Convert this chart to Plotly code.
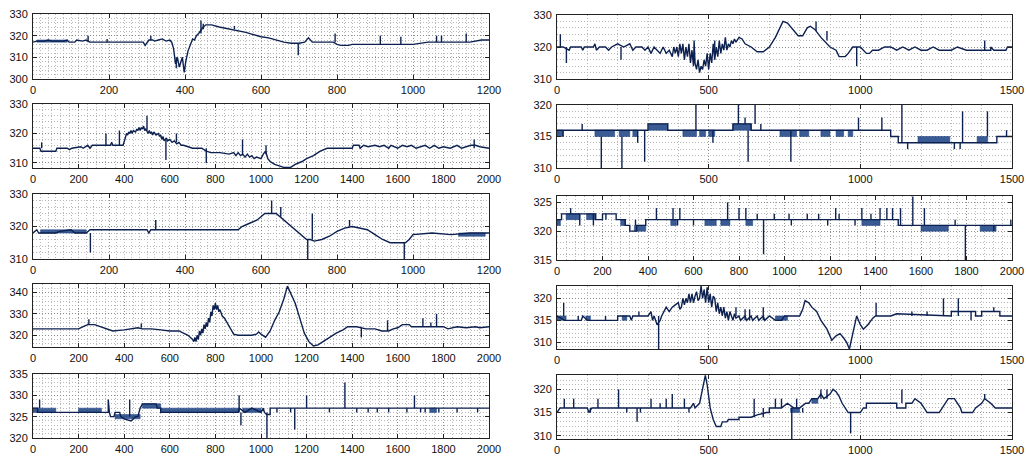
import plotly.graph_objects as go

# ---------------- data ----------------
# line: [x, y] breakpoints ; spikes: [x, from_y, to_y] ; bands: [x0, x1, low, high] dense-noise blocks

L1_line = [[0,317],[10,317.5],[30,317.5],[40,318],[50,317.5],[80,317.5],[90,318],[95,317],[110,317],[115,318],
           [130,317.5],[140,318],[150,317],[290,317],[295,315.5],[300,317],[305,318],[315,318],[320,317.5],
           [330,318],[340,318.5],[350,317.5],[360,318],[365,317],[370,314],[375,307],[380,310],[385,305.5],
           [390,309],[393,310],[398,303],[402,308],[408,313],[415,316],[420,318.5],[425,318],[430,320],
           [436,321],[440,322],[448,324],[455,325],[470,325],[490,324],[520,323],[540,322.5],[560,321.5],
           [580,320.5],[600,319.5],[620,319],[640,318],[660,317],[680,316.5],[700,316.5],[715,317],[725,319],
           [735,317],[790,317],[800,316],[810,315.5],[830,315.5],[840,316],[1000,316],[1040,317],[1150,317],
           [1170,317.5],[1180,318],[1200,318]]
L1_spikes = [[145,317,320],[195,317,318.5],[310,318,320],[442,321,327],[448,323,325.5],[530,323,324.5],
             [698,316.5,311],[795,317,321],[914,316,320],[968,316,319.5],[1062,317,320],[1075,317,320],
             [1140,317,321],[377,310,305]]
L1_bands = [[10,90,317,318]]

L2_line = [[0,315],[30,315],[35,314],[100,314],[105,315],[150,315],[160,314.5],[170,315],[210,315.5],
           [220,315],[240,316],[250,315],[260,316],[340,316],[345,317],[350,316],[395,316],[400,317],
           [405,318.5],[410,320],[415,319.5],[420,320.5],[425,320],[430,321],[435,320],[440,321],
           [450,320.5],[455,321.5],[460,321],[465,322],[470,321],[475,322],[480,321.5],[485,322.5],
           [490,321],[495,321.5],[505,320],[510,321],[515,320],[520,320.5],[525,319.5],[530,320.5],
           [540,319.5],[550,320],[555,319],[560,319.5],[565,318],[570,319],[575,317.5],[585,318.5],
           [590,317.5],[600,318],[610,317],[620,317.5],[630,316.5],[640,317],[650,316],[660,316],
           [700,315],[740,315],[760,314],[780,313.5],[820,313.5],[860,313],[880,313.5],[890,312.5],
           [900,313.5],[910,312.5],[920,313],[930,312],[940,313],[950,312],[960,312.5],[970,311.5],
           [980,312],[1000,311.5],[1005,312.5],[1010,313],[1020,314],[1030,311.5],[1040,310.5],[1060,309.5],
           [1080,309],[1100,308.5],[1130,308.5],[1150,309.5],[1180,310.5],[1200,311.5],[1230,312.5],
           [1260,314],[1290,315],[1400,315],[1405,316],[1430,316],[1435,315],[1450,316],[1470,315.5],
           [1500,316],[1520,315.5],[1540,316],[1560,315],[1570,316],[1600,315],[1620,316],[1640,315.5],
           [1660,316],[1680,315],[1700,315.5],[1720,316],[1740,315],[1760,316],[1780,315],[1800,315.5],
           [1830,315],[1860,316],[1880,315],[1900,315.5],[1920,316],[1940,316],[1960,315.5],[2000,315]]
L2_spikes = [[38,315,317],[320,316,320],[379,316,321],[500,321,326],[583,318,311],[629,317,320],
             [760,315,310],[919,313,318],[1022,313,316],[1935,315,318]]
L2_bands = []

L3_line = [[0,318],[10,319],[15,318],[60,318],[70,318.5],[100,319],[110,318],[140,318],[150,319],
           [300,319],[305,318],[310,319],[540,319],[550,320],[570,321],[590,322],[600,323],[610,324],
           [640,324],[660,322],[680,320],[700,318],[720,316],[730,316],[740,315.5],[760,316],[780,317],
           [800,318.5],[820,319.5],[840,320],[860,319.5],[880,319],[900,317.5],[920,316],[940,315],
           [980,315],[990,316],[1000,317.5],[1050,318],[1100,317.5],[1150,318],[1200,318]]
L3_spikes = [[151,318,312],[323,319,322],[628,324,328],[652,323,326],[723,316,310],[735,316,324],
             [833,320,322],[977,315,310]]
L3_bands = [[20,140,318,319],[1120,1190,317,318]]

L4_line = [[0,323],[200,323],[220,324],[240,325],[270,325],[300,324],[320,323],[350,322],[400,322.5],
           [440,323],[460,323.5],[480,323],[520,323],[560,322.5],[600,322],[640,322],[660,321],[680,320],
           [700,318],[705,317],[710,319],[715,317],[720,320],[725,318],[730,322],[735,320],[740,323],
           [745,321],[750,325],[755,323],[760,326],[765,324],[770,328],[775,326],[780,331],[785,329],
           [790,334],[795,332],[800,335],[805,332],[810,334],[815,331],[820,332],[830,329],[840,328],
           [860,324],[880,320.5],[900,320],[960,320],[980,320.5],[990,321.5],[1000,320.5],[1020,319],
           [1040,322],[1060,327],[1080,331],[1100,337],[1116,343],[1130,340],[1150,335],[1170,328],
           [1190,321],[1210,317],[1230,315],[1250,315.5],[1280,317.5],[1300,319],[1330,321],[1360,322.5],
           [1380,324],[1420,324],[1440,323.5],[1460,323],[1500,323],[1530,322],[1560,322],[1580,323],
           [1600,323.5],[1620,325],[1650,325],[1660,324],[1800,324],[1820,323],[1860,324],[1900,323.5],
           [1940,324],[1960,323.5],[2000,324]]
L4_spikes = [[245,325,327.5],[475,323.5,325.5],[1440,323.5,319],[1555,322,327],[1710,324,328],
             [1745,324,326],[1770,324,330]]
L4_bands = []

L5_line = [[0,327],[20,327],[20,326],[330,326],[330,329],[335,326],[340,325],[355,325],[360,326],
           [380,326],[385,325],[400,324.5],[430,324],[450,325],[460,325],[470,327],[480,328],[540,328],
           [545,327],[560,327],[560,326],[900,326],[905,327],[930,326],[960,327],[1000,326],[1010,327],
           [1015,326],[1025,325.5],[1040,325.5],[1040,327],[2000,327]]
L5_spikes = [[29,327,329],[424,325,329],[904,326,330],[912,326,323],[1026,326,320],[1148,327,322],
             [1200,327,330],[1368,327,333],[1673,327,330],[1070,327,326],[1130,327,326],[1300,327,326],
             [1420,327,326],[1470,327,326],[1510,327,326],[1560,327,326],[1640,327,326],[1700,327,326],
             [1720,327,326],[1780,327,326],[1860,327,326],[1950,327,326]]
L5_bands = [[0,100,326,327],[200,300,326,327],[360,470,324.5,325.5],[480,560,327,328],[560,900,326,327],
            [920,1000,326,327],[1740,1770,326,327]]

R1_line = [[0,320],[20,320],[40,319],[45,320],[80,320],[85,319],[90,320],[120,320],[125,321],[130,319],
           [140,320],[160,320],[170,319],[180,320],[200,321],[220,320],[240,321],[250,319],[260,320],
           [280,320],[290,319],[300,320],[310,318],[320,320],[330,319],[340,318],[350,320],[360,318],
           [370,319],[380,317],[385,320],[390,318],[395,320],[400,317],[405,321],[410,318],[415,321],
           [420,316],[425,320],[430,317],[435,321],[440,315],[445,319],[450,314],[452,322],[455,315],
           [460,313],[465,316],[470,312],[475,314],[480,313],[485,316],[490,314],[495,318],[500,313],
           [505,318],[510,315],[515,321],[520,316],[525,320],[530,317],[535,322],[540,318],[545,321],
           [550,319],[555,323],[560,319],[565,321],[570,320],[575,322],[580,321],[585,322.5],[590,321.5],
           [600,323],[610,322.5],[620,321],[640,320],[660,318.5],[680,318.5],[700,320],
           [720,323],[735,326],[745,328],[760,327.5],[780,325],[795,323.5],[810,323.5],[825,326],
           [835,326.5],[850,325.5],[870,323],[880,322],[900,320],[920,319],[930,317],[950,317],[960,318],
           [975,320],[1000,320],[1020,318],[1030,318],[1040,319],[1060,319],[1080,320],[1100,320],
           [1120,319],[1140,320],[1160,319],[1180,320],[1200,319],[1220,319],[1240,320],[1260,319],
           [1300,319],[1320,320],[1350,319],[1430,319],[1430,320],[1440,319],[1480,319],[1485,320],[1500,320]]
R1_spikes = [[11,320,324],[31,320,315],[211,320,316],[520,318,322],[854,325,328],
             [890,322,325],[988,320,314],[1410,319,322]]
R1_bands = []

R2_line = [[0,316],[300,316],[300,317],[365,317],[365,316],[580,316],[580,317],[640,317],[640,316],
           [1100,316],[1100,315],[1125,315],[1125,314],[1450,314],[1450,315],[1500,315]]
R2_spikes = [[20,316,315],[83,316,317],[146,315,310],[214,315,310],[266,316,314],[289,316,311],
             [458,316,320],[514,316,314],[598,317,320],[620,317,318],[630,316,311],[653,317,320],
             [672,316,317],[771,316,311],[994,316,318],[1071,316,318],[1137,314,320],[1156,314,313],
             [1310,314,313],[1329,314,313],[1337,314,319],[1419,315,319],[1482,315,316]]
R2_bands = [[0,20,315,316],[125,190,315,316],[205,240,315,316],[250,265,315,316],[302,365,316,317],
            [415,460,315,316],[470,490,315,316],[500,520,315,316],[580,640,316,317],[735,790,315,316],
            [800,830,315,316],[870,900,315,316],[920,945,315,316],[960,975,315,316],[1190,1295,314,315],
            [1385,1420,314,315]]

R3_line = [[0,322],[20,322],[20,323],[170,323],[170,322],[200,322],[200,323],[260,323],[260,322],
           [300,322],[300,321],[320,321],[320,320],[350,320],[350,321],[390,321],[390,322],[1500,322],
           [1500,321],[2000,321]]
R3_spikes = [[60,323,324],[100,323,321],[160,323,321],[215,323,322],[345,321,322],[437,322,324],
             [510,322,324],[530,322,321],[540,322,324],[600,322,321],[750,322,325],[800,322,324],
             [830,322,324],[880,322,323],[908,322,316],[955,322,323],[1020,322,323],[1030,322,321],
             [1100,322,323],[1150,322,323],[1190,322,321],[1225,322,324],[1240,322,323],[1310,322,321],
             [1340,322,324],[1380,322,323],[1420,322,324],[1450,322,324],[1475,322,324],[1510,321,324],
             [1564,321,326],[1615,321,324],[1750,321,322],[1795,321,315],[1920,321,320],[1995,321,322]]
R3_bands = [[0,15,321,322],[40,100,322,323],[130,170,322,323],[280,300,321,322],[340,390,320,321],
            [500,525,321,322],[650,700,321,322],[720,760,321,322],[830,860,321,322],[1340,1420,321,322],
            [1600,1720,320,321],[1860,1930,320,321]]

R4_line = [[0,316],[25,315],[80,315],[85,316],[100,315],[200,315],[200,316],[240,316],[245,315],[250,316],
           [300,316],[310,317],[315,315],[320,316],[330,314],[340,315],[345,316],[360,318],[370,317],
           [380,318],[390,318.5],[400,319],[405,317.5],[410,318],[415,320],[420,318.5],[425,320],[430,319],
           [435,321],[440,319],[445,321],[450,319],[455,320.5],[460,321.5],[465,319.5],[470,320],
           [475,322.8],[480,320],[485,322],[490,319],[495,322.5],[500,319],[505,321],[510,318],[515,320.5],
           [520,320],[525,317],[530,319],[535,316.5],[540,318],[545,316],[550,318],[555,315.5],[560,317],
           [565,315],[570,317],[580,315],[585,316.5],[590,315.5],[600,316],[605,315],[620,316],[625,315],
           [640,316],[645,315],[660,316],[665,315],[680,316],[685,315],[700,316],[720,315],[740,315],
           [750,316],[800,316],[810,317.5],[818,319.5],[830,319],[840,318],[856,317],[870,315],[890,313],
           [906,310.5],[920,311.5],[933,312],[945,311],[955,310],[964,308.5],[975,312],[988,316],[1000,314],
           [1010,313],[1025,314],[1041,315.5],[1050,316],[1100,316],[1120,316.5],[1300,316],[1300,317],
           [1380,317],[1380,316],[1400,316],[1400,317],[1460,317],[1460,316],[1500,316]]
R4_spikes = [[22,316,319],[70,315,316],[160,315,316],[270,316,317],[335,316,308.5],[590,316,318],
             [620,315,317.5],[635,315,317.5],[680,315,318],[1052,316,319],[1170,316,317],[1220,316,317],
             [1274,316,320],[1323,316,320],[1365,317,315],[1440,317,318]]
R4_bands = [[0,30,315,316],[95,110,315,316],[215,230,315,316],[720,760,315,316]]

R5_line = [[0,315],[10,316],[100,316],[105,315],[115,316],[440,316],[450,317],[455,316],[470,317],
           [480,320],[489,323],[495,321],[505,316],[515,313.5],[525,312],[540,312],[545,313],[560,313],
           [565,313.5],[600,313.5],[600,314],[640,314],[660,314.5],[690,315],[700,315],[700,316],[740,316],
           [760,317],[780,316],[800,316],[820,317],[830,317],[840,318],[860,318],[870,319],[880,318],
           [900,319],[910,320],[920,319.5],[930,318.5],[940,317],[960,315],[1000,315],[1010,316],
           [1020,316],[1020,317],[1120,317],[1120,316],[1150,316],[1150,317],[1170,317],[1180,318],
           [1200,317],[1210,316],[1220,315],[1260,315],[1270,316],[1280,317],[1290,318],[1310,318],
           [1320,317],[1330,316],[1335,315],[1370,315],[1380,316],[1400,317],[1410,318],[1430,317],
           [1445,316],[1500,316]]
R5_spikes = [[24,316,318],[55,316,318],[110,316,315],[135,316,318],[203,316,320],[230,316,315],
             [264,316,313],[275,316,315],[310,316,318],[340,316,317],[360,316,318],[380,316,319],
             [420,316,318],[435,316,315],[650,314,318],[680,314,316],[720,316,318],[740,316,318],
             [774,316,309.3],[790,316,318],[810,316,315],[870,318,320],[890,318,320],[968,315,310.5],
             [1137,317,320],[1410,318,319]]
R5_bands = [[770,800,315,316],[840,860,317,318]]

# axis settings: x range, x major, x minor, y range, y major, y minor
L1_axes = [[0,1200],200,20,[300,330],10,2]
L2_axes = [[0,2000],200,40,[308.3,330],10,2]
L3_axes = [[0,1200],200,20,[310,330],10,2]
L4_axes = [[0,2000],200,40,[314.5,344],10,2]
L5_axes = [[0,2000],200,40,[320,335],5,1]
R1_axes = [[0,1500],500,100,[310,330],10,2]
R2_axes = [[0,1500],500,100,[310,320],5,1]
R3_axes = [[0,2000],200,40,[315,326.1],5,1]
R4_axes = [[0,1500],500,100,[308.5,322.8],5,1]
R5_axes = [[0,1500],500,100,[309.3,323.1],5,1]

panels = [
    (L1_line, L1_spikes, L1_bands, L1_axes), (R1_line, R1_spikes, R1_bands, R1_axes),
    (L2_line, L2_spikes, L2_bands, L2_axes), (R2_line, R2_spikes, R2_bands, R2_axes),
    (L3_line, L3_spikes, L3_bands, L3_axes), (R3_line, R3_spikes, R3_bands, R3_axes),
    (L4_line, L4_spikes, L4_bands, L4_axes), (R4_line, R4_spikes, R4_bands, R4_axes),
    (L5_line, L5_spikes, L5_bands, L5_axes), (R5_line, R5_spikes, R5_bands, R5_axes),
]

# ---------------- layout geometry (pixels) ----------------
W, H = 1026, 456
col_x = [(33, 489), (557, 1012)]
row_y = [[(14, 79), (15, 79)], [(104, 168), (105, 168)], [(194, 259), (196, 260)],
         [(284, 347), (286, 349)], [(374, 438), (375, 439)]]

LINE_COLOR = "#0d2150"
BAND_COLOR = "rgba(24,62,128,0.85)"
FONT = dict(family="Liberation Sans, Arial, sans-serif", size=11, color="#111111")

fig = go.Figure()
layout = dict(width=W, height=H, margin=dict(l=0, r=0, t=0, b=0),
              paper_bgcolor="white", plot_bgcolor="white", showlegend=False)

for i, (line, spikes, bands, axes) in enumerate(panels):
    r, c = divmod(i, 2)
    xn = "x" if i == 0 else f"x{i+1}"
    yn = "y" if i == 0 else f"y{i+1}"
    xa = "xaxis" if i == 0 else f"xaxis{i+1}"
    ya = "yaxis" if i == 0 else f"yaxis{i+1}"
    xr, xmaj, xmin, yr, ymaj, ymin = axes

    # bands
    bx, by = [], []
    for x0, x1, lo, hi in bands:
        bx += [x0, x1, x1, x0, x0, None]
        by += [lo, lo, hi, hi, lo, None]
    if bx:
        fig.add_trace(go.Scatter(x=bx, y=by, mode="lines", fill="toself", fillcolor=BAND_COLOR,
                                 line=dict(width=0.6, color=BAND_COLOR), xaxis=xn, yaxis=yn,
                                 hoverinfo="skip"))
    # main line
    fig.add_trace(go.Scatter(x=[p[0] for p in line], y=[p[1] for p in line], mode="lines",
                             line=dict(color=LINE_COLOR, width=1.4), xaxis=xn, yaxis=yn))
    # spikes
    sx, sy = [], []
    for x, y0, y1 in spikes:
        sx += [x, x, None]
        sy += [y0, y1, None]
    fig.add_trace(go.Scatter(x=sx, y=sy, mode="lines", line=dict(color=LINE_COLOR, width=1.4),
                             xaxis=xn, yaxis=yn))

    x0p, x1p = col_x[c]
    ytop, ybot = row_y[r][c]
    common = dict(showline=True, linecolor="#222222", linewidth=1, mirror="ticks", ticks="inside",
                  ticklen=4, tickcolor="#222222", showgrid=True, gridcolor="#8c8c8c", griddash="1px,2px",
                  gridwidth=1, zeroline=False, tickfont=FONT, automargin=False, fixedrange=True)
    layout[xa] = dict(common, domain=[x0p / W, x1p / W], range=xr, dtick=xmaj, tick0=0,
                      anchor=yn, ticklabelstandoff=1,
                      minor=dict(dtick=xmin, tick0=0, showgrid=True, gridcolor="#b8b8b8",
                                 griddash="1px,2px", gridwidth=1))
    layout[ya] = dict(common, domain=[1 - ybot / H, 1 - ytop / H], range=yr, dtick=ymaj, tick0=0,
                      anchor=xn, ticklabelstandoff=2,
                      minor=dict(dtick=ymin, tick0=0, showgrid=True, gridcolor="#b8b8b8",
                                 griddash="1px,2px", gridwidth=1))

fig.update_layout(**layout)
fig.write_html("out.html", config={"displayModeBar": False},
               post_script="document.body.style.margin='0';")
